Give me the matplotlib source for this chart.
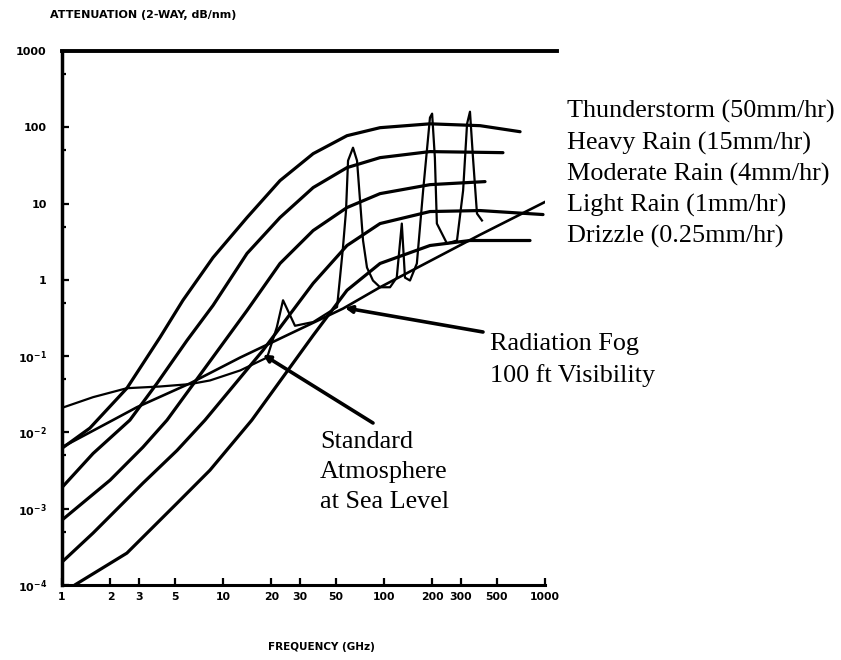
import matplotlib.pyplot as plt
from matplotlib.ticker import FixedLocator, NullFormatter, NullLocator

# rain curves (GHz, two-way dB/nm)
freq_thunder = [1.0, 1.49, 2.53, 4.06, 5.64, 8.67, 14.1, 22.6, 36.3, 58.9, 94.5, 193, 395, 700]
att_thunder = [0.0062, 0.0114, 0.038, 0.176, 0.54, 1.96, 6.56, 20.0, 45.1, 77.6, 98.8, 111, 105, 87.5]

freq_heavy = [1.0, 1.56, 2.64, 3.89, 5.98, 8.67, 14.1, 22.6, 36.3, 58.9, 94.5, 193, 548]
att_heavy = [0.0019, 0.0053, 0.0145, 0.044, 0.161, 0.462, 2.22, 6.56, 16.2, 29.6, 40.0, 48.0, 46.5]

freq_moderate = [1.0, 1.99, 3.18, 4.49, 7.96, 14.1, 22.6, 36.3, 58.9, 94.5, 193, 424]
att_moderate = [0.00071, 0.00237, 0.0064, 0.0145, 0.076, 0.397, 1.64, 4.43, 8.87, 13.5, 17.7, 19.4]

freq_light = [1.0, 1.56, 3.18, 5.18, 7.73, 17.7, 36.3, 58.9, 94.5, 193, 395, 972]
att_light = [0.0002, 0.00048, 0.00216, 0.0058, 0.0145, 0.119, 0.90, 2.82, 5.47, 7.86, 8.10, 7.18]

freq_drizzle = [1.20, 2.53, 5.18, 8.30, 15.1, 36.3, 58.9, 94.5, 193, 342, 807]
att_drizzle = [0.0001, 0.000262, 0.00118, 0.0032, 0.0145, 0.187, 0.73, 1.64, 2.82, 3.28, 3.28]

# radiation fog, 100 ft visibility
freq_fog = [1.0, 2.07, 2.92, 6.24, 12.8, 55.6, 94.5, 395, 1000]
att_fog = [0.0064, 0.0145, 0.0214, 0.044, 0.096, 0.42, 0.80, 3.9, 10.5]

# standard atmosphere at sea level
freq_atm = [1.0, 1.56, 2.53, 4.06, 6.24, 8.30, 12.8, 18.8, 21.6, 23.6,
            28.0, 36.3, 51.1, 53.3, 55.6, 58.1, 59.8, 64.2, 68.0, 71.0,
            74.1, 78.4, 85.4, 94.5, 109, 120, 129, 135, 145, 160,
            175, 193, 199, 207, 213, 246, 284, 310, 328, 342,
            357, 378, 406]
att_atm = [0.021, 0.029, 0.038, 0.040, 0.043, 0.048, 0.065, 0.096, 0.24, 0.54,
           0.25, 0.28, 0.44, 1.07, 2.65, 8.1, 36.5, 54, 36.5, 10.9,
           3.28, 1.45, 0.98, 0.80, 0.80, 1.07, 5.47, 1.07, 0.98, 1.64,
           14.8, 134, 151, 40, 5.47, 3.0, 3.28, 14.8, 111, 160,
           40, 7.4, 6.0]

rain_labels = ["Thunderstorm (50mm/hr)", "Heavy Rain (15mm/hr)", "Moderate Rain (4mm/hr)",
               "Light Rain (1mm/hr)", "Drizzle (0.25mm/hr)"]

x_ticks = [1, 2, 3, 5, 10, 20, 30, 50, 100, 200, 300, 500, 1000]
y_ticks = [1e-4, 1e-3, 1e-2, 1e-1, 1, 10, 100, 1000]
y_tick_labels = ["10$^{-4}$", "10$^{-3}$", "10$^{-2}$", "10$^{-1}$", "1", "10", "100", "1000"]

W, H = 841, 660


def fx(px):
    return px / W


def fy(py):
    return 1 - py / H


if __name__ == "__main__":
    plt.rcParams["mathtext.fontset"] = "dejavusans"
    plt.rcParams["mathtext.default"] = "bf"
    serif = "Liberation Serif"

    fig = plt.figure(figsize=(W / 100, H / 100), dpi=100)
    ax = fig.add_axes([fx(62), fy(585), 483 / W, 534 / H])
    ax.set_xscale("log")
    ax.set_yscale("log")
    ax.set_xlim(1, 1000)
    ax.set_ylim(1e-4, 1000)

    rains = [(freq_thunder, att_thunder), (freq_heavy, att_heavy), (freq_moderate, att_moderate),
             (freq_light, att_light), (freq_drizzle, att_drizzle)]
    for f, a in rains:
        ax.plot(f, a, color="black", lw=2.3, solid_capstyle="round")
    ax.plot(freq_fog, att_fog, color="black", lw=1.9)
    ax.plot(freq_atm, att_atm, color="black", lw=1.6, solid_joinstyle="round")

    # frame
    ax.spines["right"].set_visible(False)
    ax.spines["top"].set_visible(False)
    ax.spines["left"].set_linewidth(2.5)
    ax.spines["bottom"].set_linewidth(2.2)
    ax.axhline(1000, xmin=0, xmax=495 / 483, color="black", lw=2.8, clip_on=False)

    ax.xaxis.set_major_locator(FixedLocator(x_ticks))
    ax.set_xticklabels([str(t) for t in x_ticks])
    ax.xaxis.set_minor_locator(NullLocator())
    ax.yaxis.set_major_locator(FixedLocator(y_ticks))
    ax.set_yticklabels(y_tick_labels)
    ax.yaxis.set_minor_locator(FixedLocator([5 * t for t in y_ticks[:-1]]))
    ax.yaxis.set_minor_formatter(NullFormatter())
    ax.tick_params(which="both", direction="in", width=1.6, colors="black")
    ax.tick_params(which="major", length=5)
    ax.tick_params(which="minor", length=3)
    ax.tick_params(axis="x", pad=5, labelsize=7.8)
    ax.tick_params(axis="y", pad=11, labelsize=8)
    for lab in ax.get_xticklabels() + ax.get_yticklabels():
        lab.set_fontweight("bold")

    fig.text(fx(50), fy(15), "ATTENUATION (2-WAY, dB/nm)", fontsize=8, fontweight="bold", va="center")
    fig.text(fx(321), fy(647), "FREQUENCY (GHz)", fontsize=7.5, fontweight="bold", ha="center", va="center")

    # legend text at right
    for i, lab in enumerate(rain_labels):
        fig.text(fx(567), fy(118 + 31.2 * i), lab, family=serif, fontsize=18.8, va="baseline")

    fig.text(fx(490), fy(350), "Radiation Fog", family=serif, fontsize=18.8, va="baseline")
    fig.text(fx(490), fy(382), "100 ft Visibility", family=serif, fontsize=18.8, va="baseline")
    fig.text(fx(320), fy(448), "Standard", family=serif, fontsize=18.8, va="baseline")
    fig.text(fx(320), fy(478), "Atmosphere", family=serif, fontsize=18.8, va="baseline")
    fig.text(fx(320), fy(508), "at Sea Level", family=serif, fontsize=18.8, va="baseline")

    arrow = dict(arrowstyle="-|>", color="black", lw=2.6, mutation_scale=10, shrinkA=0, shrinkB=0)
    ax.annotate("", xy=(57, 0.43), xycoords="data",
                xytext=(fx(483), fy(332)), textcoords="figure fraction", arrowprops=arrow)
    ax.annotate("", xy=(17.7, 0.105), xycoords="data",
                xytext=(fx(373), fy(423)), textcoords="figure fraction", arrowprops=arrow)

    fig.savefig("out.png", dpi=100, facecolor="white")
